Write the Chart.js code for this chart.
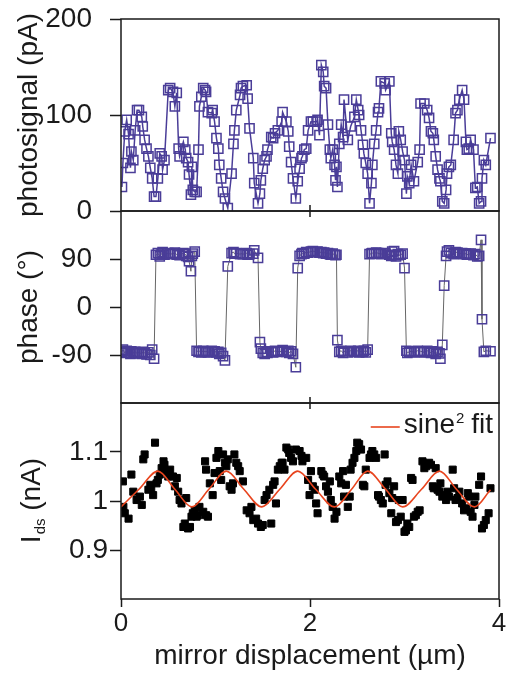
<!DOCTYPE html>
<html>
<head>
<meta charset="utf-8">
<script src="https://cdn.jsdelivr.net/npm/chart.js@4.4.1/dist/chart.umd.min.js"></script>
<style>
  html, body { margin: 0; padding: 0; background: #fff; }
  #wrap { width: 507px; height: 676px; }
</style>
</head>
<body>
<div id="wrap"><canvas id="chart" width="507" height="676"></canvas></div>
<script>
// mirror displacement (µm), shared by photosignal and phase
const displacement = [
  0.01, 0.02, 0.04, 0.06, 0.08, 0.10, 0.11, 0.13, 0.15, 0.17,
  0.19, 0.22, 0.23, 0.25, 0.27, 0.29, 0.31, 0.33, 0.35, 0.37,
  0.39, 0.41, 0.43, 0.44, 0.46, 0.50, 0.52, 0.55, 0.57, 0.59,
  0.61, 0.62, 0.66, 0.68, 0.69, 0.71, 0.72, 0.74, 0.75, 0.76,
  0.78, 0.80, 0.82, 0.83, 0.85, 0.87, 0.89, 0.90, 0.92, 0.96,
  0.97, 0.99, 1.01, 1.03, 1.04, 1.06, 1.08, 1.10, 1.13, 1.17,
  1.19, 1.20, 1.22, 1.26, 1.27, 1.29, 1.33, 1.34, 1.36, 1.40,
  1.41, 1.45, 1.47, 1.48, 1.50, 1.52, 1.54, 1.55, 1.59, 1.61,
  1.63, 1.66, 1.70, 1.71, 1.75, 1.77, 1.78, 1.80, 1.82, 1.85,
  1.87, 1.89, 1.91, 1.92, 1.94, 1.96, 1.98, 2.01, 2.03, 2.07,
  2.08, 2.10, 2.12, 2.14, 2.15, 2.17, 2.19, 2.21, 2.22, 2.24,
  2.26, 2.27, 2.28, 2.29, 2.31, 2.33, 2.35, 2.36, 2.40, 2.43,
  2.47, 2.49, 2.51, 2.52, 2.54, 2.56, 2.57, 2.59, 2.61, 2.63,
  2.65, 2.66, 2.68, 2.70, 2.72, 2.73, 2.75, 2.79, 2.80, 2.84,
  2.86, 2.87, 2.89, 2.91, 2.93, 2.94, 2.96, 2.98, 3.00, 3.02,
  3.03, 3.05, 3.07, 3.10, 3.14, 3.16, 3.17, 3.21, 3.24, 3.26,
  3.28, 3.30, 3.31, 3.33, 3.35, 3.37, 3.38, 3.40, 3.42, 3.44,
  3.45, 3.47, 3.49, 3.52, 3.54, 3.56, 3.58, 3.61, 3.63, 3.65,
  3.66, 3.68, 3.70, 3.73, 3.75, 3.77, 3.79, 3.81, 3.82, 3.84,
  3.86, 3.91
];

// photosignal (pA)
const photosignal = [
  25, 50, 83, 95, 80, 45, 62, 53, 84, 105,
  105, 98, 88, 74, 65, 57, 45, 34, 15, 15,
  34, 60, 57, 43, 53, 126, 128, 124, 109, 123,
  65, 57, 72, 64, 55, 51, 38, 17, 46, 22,
  20, 20, 64, 109, 119, 128, 126, 124, 103, 102,
  105, 93, 76, 65, 48, 34, 20, 13, 3, 39,
  70, 84, 105, 121, 128, 130, 131, 117, 86, 55,
  29, 8, 18, 32, 44, 53, 57, 64, 77, 76,
  81, 84, 93, 103, 93, 83, 67, 51, 34, 13,
  31, 44, 55, 57, 64, 65, 84, 93, 93, 93,
  95, 79, 152, 145, 130, 128, 90, 64, 55, 64,
  48, 32, 46, 25, 70, 90, 77, 116, 74, 88,
  98, 116, 105, 100, 84, 69, 60, 50, 39, 8,
  29, 48, 70, 84, 103, 107, 135, 133, 126, 135,
  81, 72, 64, 48, 39, 83, 74, 62, 53, 18,
  36, 29, 48, 31, 51, 64, 112, 112, 105, 97,
  83, 81, 74, 57, 43, 34, 31, 10, 8, 22,
  39, 46, 48, 74, 102, 105, 116, 126, 116, 72,
  64, 65, 74, 64, 24, 25, 8, 10, 34, 53,
  48, 76
];

// phase (°)
const phase = [
  -84, -80, -86, -82, -85, -88, -83, -86, -84, -87,
  -85, -88, -84, -86, -89, -85, -90, -80, -97, 98,
  101, 95, 100, 103, 98, 101, 99, 100, 102, 98,
  100, 97, 101, 99, 96, 94, 86, 67, 96, 100,
  104, -82, -84, -83, -85, -82, -84, -83, -85, -82,
  -84, -83, -85, -84, -88, -86, -92, -100, 76, 101,
  103, 100, 101, 99, 100, 99, 101, 98, 99, 100,
  106, 92, -66, -78, -86, -88, -84, -86, -83, -85,
  -82, -84, -83, -81, -84, -82, -86, -83, -88, -113,
  73, 96, 99, 101, 100, 103, 102, 104, 105, 103,
  104, 102, 103, 101, 102, 100, 101, 99, 98, 100,
  98, 97, 98, -62, -84, -82, -86, -83, -85, -82,
  -84, -83, -82, -85, -83, -84, -82, -85, -80, 99,
  100, 101, 100, 102, 101, 100, 99, 101, 100, 98,
  96, 104, 105, 95, 99, 97, 98, 100, 73, -82,
  -86, -84, -83, -85, -82, -84, -83, -85, -82, -84,
  -86, -83, -85, -88, -84, -87, -97, -71, 40, 96,
  104, 106, 101, 99, 103, 102, 100, 101, 99, 100,
  98, 99, 100, 97, 99, 95, 96, 126, -23, -84,
  -82, -83
];

// I_ds scatter: displacement (µm) and current (nA)
const idsX = [
  0.02, 0.025, 0.04, 0.08, 0.11, 0.13, 0.165, 0.20, 0.22, 0.236,
  0.25, 0.29, 0.31, 0.32, 0.34, 0.36, 0.376, 0.39, 0.41, 0.43,
  0.45, 0.46, 0.48, 0.50, 0.52, 0.55, 0.57, 0.59, 0.605, 0.62,
  0.64, 0.66, 0.675, 0.69, 0.71, 0.73, 0.746, 0.76, 0.78, 0.80,
  0.816, 0.83, 0.87, 0.89, 0.90, 0.90, 0.92, 0.94, 0.97, 0.99,
  1.01, 1.03, 1.045, 1.06, 1.08, 1.10, 1.115, 1.13, 1.15, 1.17,
  1.185, 1.20, 1.22, 1.24, 1.256, 1.29, 1.33, 1.36, 1.38, 1.40,
  1.43, 1.45, 1.48, 1.50, 1.52, 1.54, 1.57, 1.59, 1.61, 1.625,
  1.64, 1.66, 1.68, 1.70, 1.71, 1.73, 1.75, 1.77, 1.78, 1.80,
  1.82, 1.85, 1.89, 1.91, 1.92, 1.96, 1.98, 1.995, 2.01, 2.03,
  2.05, 2.065, 2.08, 2.12, 2.135, 2.15, 2.17, 2.19, 2.21, 2.22,
  2.24, 2.26, 2.28, 2.31, 2.33, 2.35, 2.36, 2.38, 2.40, 2.42,
  2.43, 2.45, 2.47, 2.49, 2.50, 2.52, 2.54, 2.56, 2.575, 2.59,
  2.63, 2.645, 2.66, 2.68, 2.70, 2.72, 2.73, 2.75, 2.77, 2.79,
  2.80, 2.82, 2.84, 2.86, 2.87, 2.89, 2.91, 2.93, 2.94, 2.96,
  2.98, 3.00, 3.015, 3.03, 3.05, 3.07, 3.085, 3.10, 3.12, 3.14,
  3.16, 3.19, 3.21, 3.23, 3.26, 3.28, 3.30, 3.31, 3.33, 3.35,
  3.37, 3.38, 3.40, 3.42, 3.44, 3.455, 3.47, 3.51, 3.525, 3.54,
  3.56, 3.58, 3.61, 3.63, 3.65, 3.67, 3.68, 3.70, 3.72, 3.74,
  3.75, 3.79, 3.81, 3.82, 3.84, 3.86, 3.89, 3.91
];
const idsY = [
  1.040, 0.988, 0.975, 0.964, 1.054, 1.019, 1.002, 1.009, 0.992, 1.085,
  1.095, 1.023, 1.033, 1.026, 1.012, 1.119, 1.036, 1.043, 1.054, 1.067,
  1.081, 1.074, 1.061, 1.050, 1.064, 1.050, 1.030, 1.047, 1.019, 1.002,
  0.995, 0.947, 0.954, 1.006, 0.944, 0.947, 0.968, 0.975, 0.981, 0.968,
  0.971, 0.988, 0.978, 1.081, 1.064, 0.971, 0.968, 1.036, 1.012, 1.057,
  1.088, 1.102, 1.061, 1.043, 1.095, 1.078, 1.071, 1.085, 1.030, 1.023,
  1.036, 1.095, 1.078, 1.071, 1.061, 1.040, 0.981, 0.975, 0.988, 0.961,
  0.964, 0.954, 0.947, 0.951, 1.002, 1.012, 1.023, 0.954, 1.033, 1.040,
  0.995, 1.064, 1.071, 1.078, 1.078, 1.064, 1.109, 1.105, 1.098, 1.088,
  1.081, 1.105, 1.102, 1.092, 1.081, 1.088, 1.043, 1.012, 1.061, 1.030,
  1.023, 0.995, 0.975, 1.061, 1.054, 1.050, 1.030, 1.019, 1.040, 1.002,
  0.988, 0.964, 0.978, 1.050, 1.036, 1.061, 1.009, 1.033, 0.988, 1.009,
  1.064, 1.078, 1.088, 1.102, 1.119, 1.116, 1.105, 1.033, 1.030, 1.064,
  1.088, 1.095, 1.102, 1.095, 1.088, 1.012, 1.009, 1.002, 0.995, 1.095,
  1.033, 1.040, 1.016, 0.975, 1.006, 1.030, 0.957, 0.961, 1.002, 0.968,
  1.002, 0.937, 0.940, 0.954, 0.947, 1.047, 1.043, 0.968, 0.971, 0.978,
  0.981, 1.081, 1.067, 1.071, 1.078, 1.074, 1.030, 1.026, 1.067, 1.023,
  1.019, 1.036, 1.009, 1.012, 1.002, 1.019, 1.009, 1.064, 1.026, 1.002,
  1.006, 1.019, 0.995, 0.981, 0.985, 1.016, 1.009, 0.978, 0.968, 0.992,
  1.009, 1.033, 1.050, 0.944, 0.951, 0.961, 0.975, 1.026
];

// sine² fit, read at its peaks, troughs and midpoints
const fitX = [0, 0.19, 0.39, 0.57, 0.75, 0.93, 1.115, 1.30, 1.49, 1.68, 1.87, 2.06,
              2.26, 2.44, 2.61, 2.80, 2.98, 3.18, 3.37, 3.55, 3.74, 3.91];
const fitY = [0.988, 1.024, 1.061, 1.024, 0.988, 1.024, 1.061, 1.024, 0.988, 1.024, 1.061, 1.024,
              0.988, 1.024, 1.061, 1.024, 0.988, 1.024, 1.061, 1.024, 0.988, 1.023];

const xTicks = [0, 2, 4];
const photoTicks = [0, 100, 200];
const phaseTicks = [-90, 0, 90];
const idsTicks = [0.9, 1, 1.1];

const FONT = "'Liberation Sans', Arial, Helvetica, sans-serif";
const PURPLE = '#4a3d98';
const RED = '#e8441e';
const INK = '#1a1a1a';

const setTicks = list => scale => { scale.ticks = list.map(v => ({ value: v })); };

// frames round each panel, little inner ticks, the I_ds title and the fit legend
const panelDecor = {
  id: 'panelDecor',
  afterDraw(chart) {
    const { ctx, chartArea, scales } = chart;
    const mid = scales.x.getPixelForValue(2);
    ctx.save();
    ctx.strokeStyle = INK;
    ctx.lineWidth = 1.5;
    ['yP', 'yPh', 'yI'].forEach((id, i) => {
      const s = scales[id];
      ctx.strokeRect(chartArea.left, s.top, chartArea.right - chartArea.left, s.bottom - s.top);
      ctx.beginPath();
      if (i > 0) { ctx.moveTo(mid, s.top); ctx.lineTo(mid, s.top + 6); }
      if (i < 2) { ctx.moveTo(mid, s.bottom); ctx.lineTo(mid, s.bottom - 6); }
      ctx.stroke();
    });

    // rotated "I_ds (nA)" title
    const sI = scales.yI;
    const cy = (sI.top + sI.bottom) / 2;
    ctx.fillStyle = INK;
    ctx.translate(30, cy);
    ctx.rotate(-Math.PI / 2);
    ctx.textBaseline = 'alphabetic';
    ctx.textAlign = 'left';
    const big = '28px ' + FONT, small = '15px ' + FONT;
    ctx.font = big; const wI = ctx.measureText('I').width;
    ctx.font = small; const wSub = ctx.measureText('ds').width;
    ctx.font = big; const wRest = ctx.measureText(' (nA)').width;
    let tx = -(wI + wSub + wRest) / 2;
    ctx.font = big; ctx.fillText('I', tx, 10); tx += wI + 1;
    ctx.font = small; ctx.fillText('ds', tx, 15); tx += wSub;
    ctx.font = big; ctx.fillText(' (nA)', tx, 10);
    ctx.setTransform(1, 0, 0, 1, 0, 0);

    // legend for the fit line
    const base = sI.top + 30;
    ctx.font = big; const wS = ctx.measureText('sine').width; const wF = ctx.measureText(' fit').width;
    ctx.font = small; const w2 = ctx.measureText('2').width;
    const start = chartArea.right - 6 - (wS + w2 + wF);
    ctx.strokeStyle = RED;
    ctx.lineWidth = 1.6;
    ctx.beginPath();
    ctx.moveTo(start - 33, base - 6);
    ctx.lineTo(start - 4, base - 6);
    ctx.stroke();
    ctx.fillStyle = INK;
    ctx.font = big; ctx.fillText('sine', start, base);
    ctx.font = small; ctx.fillText('2', start + wS + 1, base - 10);
    ctx.font = big; ctx.fillText(' fit', start + wS + w2, base);
    ctx.restore();
  }
};

const yCommon = {
  type: 'linear',
  position: 'left',
  stack: 'panels',
  border: { display: false },
  grid: { drawOnChartArea: false, tickLength: 11, tickColor: INK, tickWidth: 1.5 },
  afterFit: s => { s.width = 121; s.paddingTop = 0; s.paddingBottom = 0; }
};

new Chart(document.getElementById('chart'), {
  type: 'scatter',
  data: {
    datasets: [
      {
        label: 'sine² fit',
        data: fitX.map((x, i) => ({ x, y: fitY[i] })),
        yAxisID: 'yI',
        showLine: true,
        borderColor: RED,
        borderWidth: 1.6,
        pointRadius: 0,
        cubicInterpolationMode: 'monotone'
      },
      {
        label: 'Ids',
        data: idsX.map((x, i) => ({ x, y: idsY[i] })),
        yAxisID: 'yI',
        pointStyle: 'rect',
        pointRadius: 5,
        backgroundColor: '#000',
        borderColor: '#000',
        borderWidth: 1
      },
      {
        label: 'phase',
        data: displacement.map((x, i) => ({ x, y: phase[i] })),
        yAxisID: 'yPh',
        showLine: true,
        borderColor: '#666',
        borderWidth: 1,
        pointStyle: 'rect',
        pointRadius: 6.5,
        pointBorderColor: PURPLE,
        pointBackgroundColor: 'rgba(255,255,255,0)',
        pointBorderWidth: 1.5
      },
      {
        label: 'photosignal',
        data: displacement.map((x, i) => ({ x, y: photosignal[i] })),
        yAxisID: 'yP',
        showLine: true,
        borderColor: PURPLE,
        borderWidth: 1.5,
        pointStyle: 'rect',
        pointRadius: 6.5,
        pointBorderColor: PURPLE,
        pointBackgroundColor: 'rgba(255,255,255,0)',
        pointBorderWidth: 1.5
      }
    ]
  },
  options: {
    responsive: false,
    animation: false,
    layout: { padding: { top: 19, right: 7, left: 0, bottom: 0 } },
    plugins: { legend: { display: false }, tooltip: { enabled: false } },
    scales: {
      x: {
        type: 'linear',
        min: 0,
        max: 4,
        border: { display: false },
        grid: { drawOnChartArea: false, tickLength: 8, tickColor: INK, tickWidth: 1.5 },
        ticks: { color: INK, font: { family: FONT, size: 26 }, padding: 1, maxRotation: 0 },
        afterBuildTicks: setTicks(xTicks),
        title: {
          display: true,
          text: 'mirror displacement (µm)',
          color: INK,
          font: { family: FONT, size: 28 },
          padding: { top: 0, bottom: 3 }
        },
        afterFit: s => { s.height = 77; s.paddingLeft = 0; s.paddingRight = 0; }
      },
      yI: Object.assign({}, yCommon, {
        min: 0.8,
        max: 1.2,
        weight: 1,
        stackWeight: 196,
        afterBuildTicks: setTicks(idsTicks),
        ticks: { color: INK, font: { family: FONT, size: 28 }, padding: 2, callback: v => String(v) }
      }),
      yPh: Object.assign({}, yCommon, {
        min: -180,
        max: 180,
        weight: 2,
        stackWeight: 192,
        afterBuildTicks: setTicks(phaseTicks),
        ticks: { color: INK, font: { family: FONT, size: 28 }, padding: 18 },
        title: { display: true, text: 'phase (°)', color: INK, font: { family: FONT, size: 28 }, padding: { top: 12, bottom: 0 } }
      }),
      yP: Object.assign({}, yCommon, {
        min: 0,
        max: 200,
        weight: 3,
        stackWeight: 192,
        afterBuildTicks: setTicks(photoTicks),
        ticks: { color: INK, font: { family: FONT, size: 28 }, padding: 18 },
        title: { display: true, text: 'photosignal (pA)', color: INK, font: { family: FONT, size: 28 }, padding: { top: 12, bottom: 0 } }
      })
    }
  },
  plugins: [panelDecor]
});
</script>
</body>
</html>
